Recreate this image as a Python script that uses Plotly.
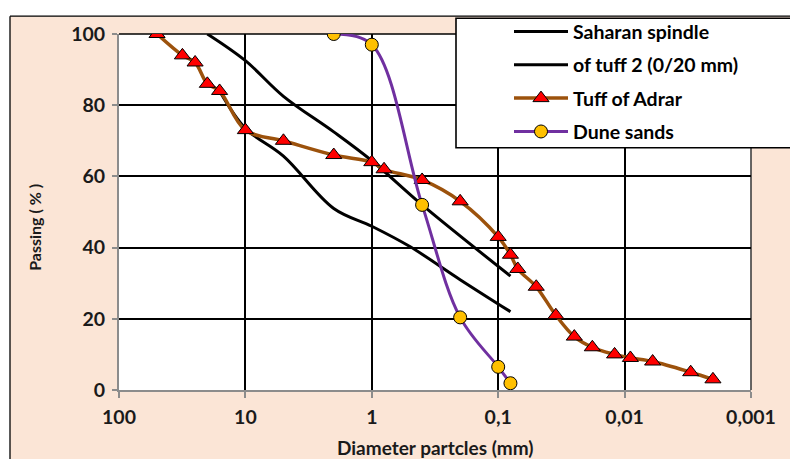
import plotly.graph_objects as go

# ---- data ----
tuff_d = [50, 31.5, 25, 20, 16, 10, 5, 2, 1, 0.8, 0.4, 0.2, 0.1, 0.08, 0.07,
          0.05, 0.035, 0.025, 0.018, 0.012, 0.009, 0.006, 0.003, 0.002]
tuff_p = [100, 94, 92, 86, 84, 73, 70, 66, 64, 62, 59, 53, 43, 38, 34,
          29, 21, 15, 12, 10, 9, 8, 5, 3]

dune_d = [2, 1, 0.4, 0.2, 0.1, 0.08]
dune_p = [100, 97, 52, 20.4, 6.5, 1.9]

upper_d = [20, 10, 5, 2, 1, 0.4, 0.08]
upper_p = [100, 92.5, 82.5, 72.5, 64.4, 52, 32]

lower_d = [16, 10, 5, 2, 1, 0.5, 0.2, 0.08]
lower_p = [84, 73.5, 65.7, 51, 46, 40.3, 31, 22]

x_ticks = [100, 10, 1, 0.1, 0.01, 0.001]
x_tick_labels = ["100", "10", "1", "0,1", "0,01", "0,001"]
y_ticks = [0, 20, 40, 60, 80, 100]

FONT = "Lato"
PEACH = "#FBE5D6"

fig = go.Figure()
fig.add_trace(go.Scatter(x=upper_d, y=upper_p, mode="lines", name="Saharan spindle",
                         line=dict(color="black", width=3, shape="spline"),
                         legendgroup="a"))
fig.add_trace(go.Scatter(x=lower_d, y=lower_p, mode="lines", name="of tuff 2 (0/20 mm)",
                         line=dict(color="black", width=3, shape="spline"),
                         legendgroup="b"))
fig.add_trace(go.Scatter(x=tuff_d, y=tuff_p, mode="lines+markers", name="Tuff of Adrar",
                         line=dict(color="#9C520C", width=3.5, shape="spline"),
                         marker=dict(symbol="triangle-up", size=14, color="#FF0000",
                                     line=dict(color="black", width=1)),
                         legendgroup="c"))
fig.add_trace(go.Scatter(x=dune_d, y=dune_p, mode="lines+markers", name="Dune sands",
                         line=dict(color="#7030A0", width=3, shape="spline"),
                         marker=dict(symbol="circle", size=13, color="#FFC000",
                                     line=dict(color="black", width=1)),
                         legendgroup="d"))

W, H = 790, 459
L, R, T, B = 119, 39, 30, 69
pw, ph = W - L - R, H - T - B

def px(xp):
    return (xp - L) / pw

def py(yp):
    return (H - B - yp) / ph

shapes = [
    # white strips outside chart border
    dict(type="rect", xref="paper", yref="paper", x0=px(-5), x1=px(10), y0=py(470), y1=py(-5),
         fillcolor="white", line=dict(width=0), layer="above"),
    dict(type="rect", xref="paper", yref="paper", x0=px(-5), x1=px(800), y0=py(12), y1=py(-5),
         fillcolor="white", line=dict(width=0), layer="above"),
    # chart border
    dict(type="line", xref="paper", yref="paper", x0=px(10), x1=px(10), y0=py(470), y1=py(12),
         line=dict(color="black", width=1.3), layer="above"),
    dict(type="line", xref="paper", yref="paper", x0=px(10), x1=px(800), y0=py(12), y1=py(12),
         line=dict(color="black", width=1.3), layer="above"),
    # top and right plot-area edges
    dict(type="line", xref="paper", yref="paper", x0=0, x1=1, y0=1, y1=1,
         line=dict(color="black", width=1.6), layer="below"),
    dict(type="line", xref="paper", yref="paper", x0=1, x1=1, y0=0, y1=1,
         line=dict(color="#404040", width=1.6), layer="below"),
    # legend box
    dict(type="rect", xref="paper", yref="paper", x0=px(456), x1=px(800), y0=py(145), y1=py(14),
         fillcolor="white", line=dict(color="black", width=1.6), layer="above"),
]

fig.update_layout(
    width=W, height=H,
    margin=dict(l=L, r=R, t=T, b=B),
    paper_bgcolor=PEACH,
    plot_bgcolor="white",
    font=dict(family=FONT, color="#1a1a1a"),
    showlegend=True,
    legend=dict(x=px(509), y=py(8), xanchor="left", yanchor="top",
                bgcolor="rgba(0,0,0,0)", borderwidth=0,
                font=dict(family=FONT, size=19.5, color="black", weight="bold"),
                itemwidth=54, tracegroupgap=5, traceorder="grouped"),
    shapes=shapes,
    annotations=[
        dict(text="<b>Diameter partcles (mm)</b>", xref="paper", yref="paper",
             x=0.5, y=py(448), xanchor="center", yanchor="middle", showarrow=False,
             font=dict(family=FONT, size=19, color="#1a1a1a")),
        dict(text="<b>Passing ( % )</b>", xref="paper", yref="paper",
             x=px(35), y=py(226), xanchor="center", yanchor="middle", showarrow=False,
             textangle=-90, font=dict(family=FONT, size=16, color="#1a1a1a")),
    ],
)

fig.update_xaxes(type="log", range=[2, -3], tickvals=x_ticks, ticktext=x_tick_labels,
                 showgrid=True, gridcolor="black", gridwidth=1.6,
                 showline=True, linecolor="#8C8C8C", linewidth=2,
                 ticks="outside", ticklen=6, tickcolor="#8C8C8C", tickwidth=2,
                 tickfont=dict(family=FONT, size=19.5, color="#1a1a1a", weight="bold"),
                 ticklabelstandoff=3, zeroline=False)
fig.update_yaxes(range=[0, 100], tickvals=y_ticks,
                 showgrid=True, gridcolor="black", gridwidth=1.6,
                 showline=True, linecolor="#8C8C8C", linewidth=2,
                 ticks="outside", ticklen=5, tickcolor="#8C8C8C", tickwidth=2,
                 tickfont=dict(family=FONT, size=19.5, color="#1a1a1a", weight="bold"),
                 ticklabelstandoff=3, zeroline=False)

fig.write_html("out.html", config={"displayModeBar": False},
               post_script="document.body.style.margin='0px';document.body.style.overflow='hidden';")
